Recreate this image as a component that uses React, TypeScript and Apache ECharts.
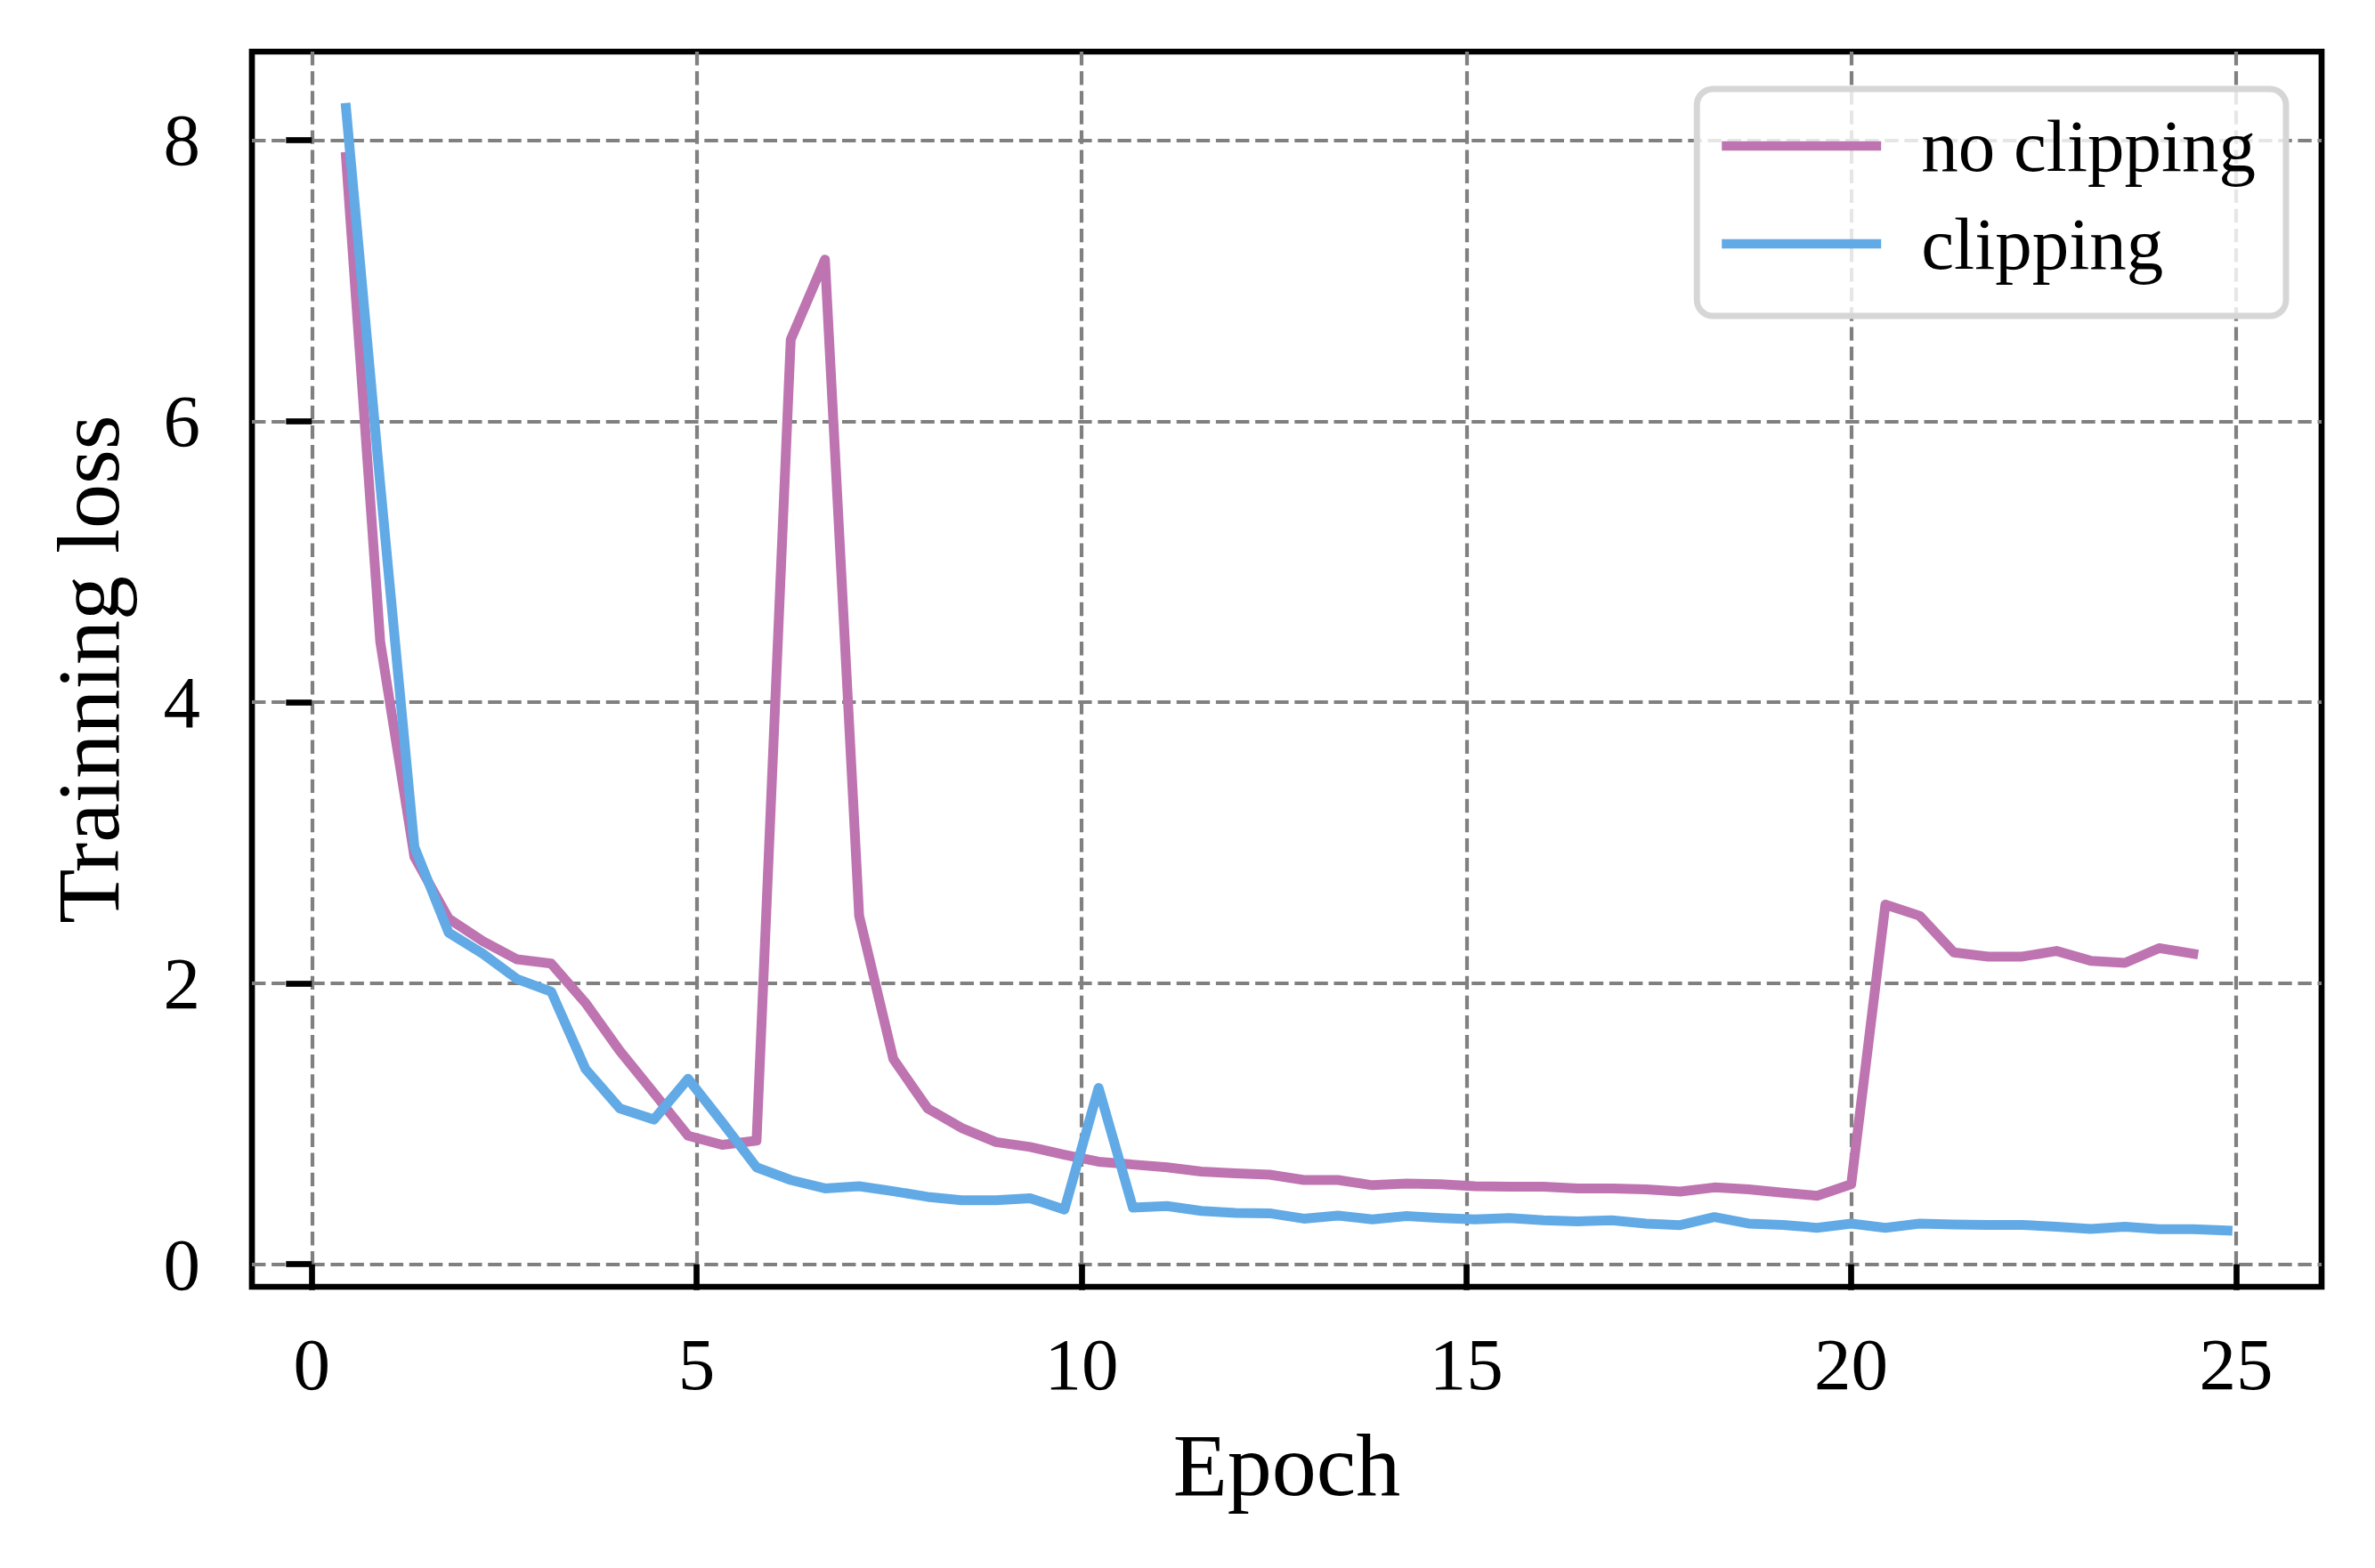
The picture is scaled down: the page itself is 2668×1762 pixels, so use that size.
import React, { useEffect, useRef } from "react";
import * as echarts from "echarts";

// Epoch positions of the recorded points (9 evaluations per 4 epochs)
const epochs = [
  0.444, 0.889, 1.333, 1.778, 2.222, 2.667, 3.111, 3.556, 4.0, 4.444,
  4.889, 5.333, 5.778, 6.222, 6.667, 7.111, 7.556, 8.0, 8.444, 8.889,
  9.333, 9.778, 10.222, 10.667, 11.111, 11.556, 12.0, 12.444, 12.889, 13.333,
  13.778, 14.222, 14.667, 15.111, 15.556, 16.0, 16.444, 16.889, 17.333, 17.778,
  18.222, 18.667, 19.111, 19.556, 20.0, 20.444, 20.889, 21.333, 21.778, 22.222,
  22.667, 23.111, 23.556, 24.0, 24.444, 24.889,
];

const noClipping = [
  7.88, 4.43, 2.9, 2.46, 2.3, 2.17, 2.14, 1.86, 1.52, 1.22,
  0.915, 0.85, 0.88, 6.58, 7.15, 2.48, 1.46, 1.11, 0.97, 0.87,
  0.835, 0.78, 0.73, 0.71, 0.69, 0.66, 0.647, 0.638, 0.6, 0.6,
  0.563, 0.574, 0.57, 0.556, 0.552, 0.552, 0.54, 0.54, 0.533, 0.518,
  0.547, 0.533, 0.51, 0.488, 0.57, 2.56, 2.48, 2.22, 2.19, 2.19,
  2.23, 2.16, 2.145, 2.25, 2.21,
];

const clipping = [
  8.23, 5.55, 2.97, 2.36, 2.21, 2.03, 1.94, 1.39, 1.11, 1.03,
  1.32, 1.01, 0.69, 0.6, 0.54, 0.556, 0.52, 0.48, 0.456, 0.456,
  0.47, 0.39, 1.255, 0.404, 0.415, 0.38, 0.365, 0.363, 0.325, 0.347,
  0.32, 0.343, 0.329, 0.32, 0.329, 0.313, 0.306, 0.313, 0.29, 0.279,
  0.336, 0.29, 0.28, 0.26, 0.29, 0.26, 0.29, 0.284, 0.28, 0.28,
  0.268, 0.252, 0.268, 0.25, 0.25, 0.24,
];

const xTicks = [0, 5, 10, 15, 20, 25];
const yTicks = [0, 2, 4, 6, 8];
const seriesNames = ["no clipping", "clipping"];
const seriesColors = ["#BD74B0", "#61AAE6"];

const FONT = "'Liberation Serif', 'Times New Roman', Times, serif";

export default function App() {
  const ref = useRef<HTMLDivElement>(null);

  useEffect(() => {
    if (!ref.current) return;
    const chart = echarts.init(ref.current, null, { renderer: "svg" });

    const pair = (vals: number[]) => vals.map((v, i) => [epochs[i], v]);

    const gridLine = {
      show: true,
      lineStyle: { color: "#808080", width: 4.2, type: [15.4, 6.7] as any },
    };

    const option: any = {
      animation: false,
      backgroundColor: "#ffffff",
      grid: {
        left: 283,
        right: 60,
        top: 58,
        bottom: 316,
        show: true,
        borderColor: "#000000",
        borderWidth: 6.7,
        backgroundColor: "transparent",
        containLabel: false,
      },
      xAxis: {
        type: "value",
        min: -0.778,
        max: 26.111,
        name: "Epoch",
        nameLocation: "middle",
        nameGap: 150,
        nameTextStyle: { fontFamily: FONT, fontSize: 100, color: "#000" },
        axisLine: { show: false },
        axisTick: {
          show: true,
          length: 29,
          customValues: xTicks,
          lineStyle: { color: "#000", width: 6.7 },
        },
        axisLabel: {
          customValues: xTicks,
          margin: 45,
          fontFamily: FONT,
          fontSize: 83,
          color: "#000",
        },
        splitLine: gridLine,
      },
      yAxis: {
        type: "value",
        min: -0.16,
        max: 8.63,
        name: "Trainning loss",
        nameLocation: "middle",
        nameGap: 134,
        nameTextStyle: { fontFamily: FONT, fontSize: 100, color: "#000" },
        axisLine: { show: false },
        axisTick: {
          show: true,
          length: 29,
          customValues: yTicks,
          lineStyle: { color: "#000", width: 6.7 },
        },
        axisLabel: {
          customValues: yTicks,
          margin: 58,
          fontFamily: FONT,
          fontSize: 83,
          color: "#000",
        },
        splitLine: gridLine,
      },
      legend: {
        orient: "vertical",
        right: 100,
        top: 100,
        itemWidth: 179,
        itemHeight: 10.5,
        itemGap: 20,
        icon: "rect",
        padding: [19, 34, 36, 28],
        backgroundColor: "rgba(255,255,255,0.8)",
        borderColor: "#d6d6d6",
        borderWidth: 7,
        borderRadius: 18,
        itemStyle: { borderWidth: 0 },
        textStyle: {
          fontFamily: FONT,
          fontSize: 83,
          color: "#000",
          lineHeight: 90,
          padding: [0, 0, 0, 40],
        },
        data: seriesNames.map((n) => ({ name: n })),
      },
      series: [
        {
          name: seriesNames[0],
          type: "line",
          data: pair(noClipping),
          color: seriesColors[0],
          symbol: "none",
          showSymbol: false,
          lineStyle: { width: 11, color: seriesColors[0], cap: "square", join: "round" },
          z: 3,
        },
        {
          name: seriesNames[1],
          type: "line",
          data: pair(clipping),
          color: seriesColors[1],
          symbol: "none",
          showSymbol: false,
          lineStyle: { width: 11, color: seriesColors[1], cap: "square", join: "round" },
          z: 4,
        },
      ],
    };

    chart.setOption(option);
    return () => chart.dispose();
  }, []);

  return (
    <div
      ref={ref}
      style={{
        position: "fixed",
        left: 0,
        top: 0,
        width: 2668,
        height: 1762,
        background: "#ffffff",
      }}
    />
  );
}
